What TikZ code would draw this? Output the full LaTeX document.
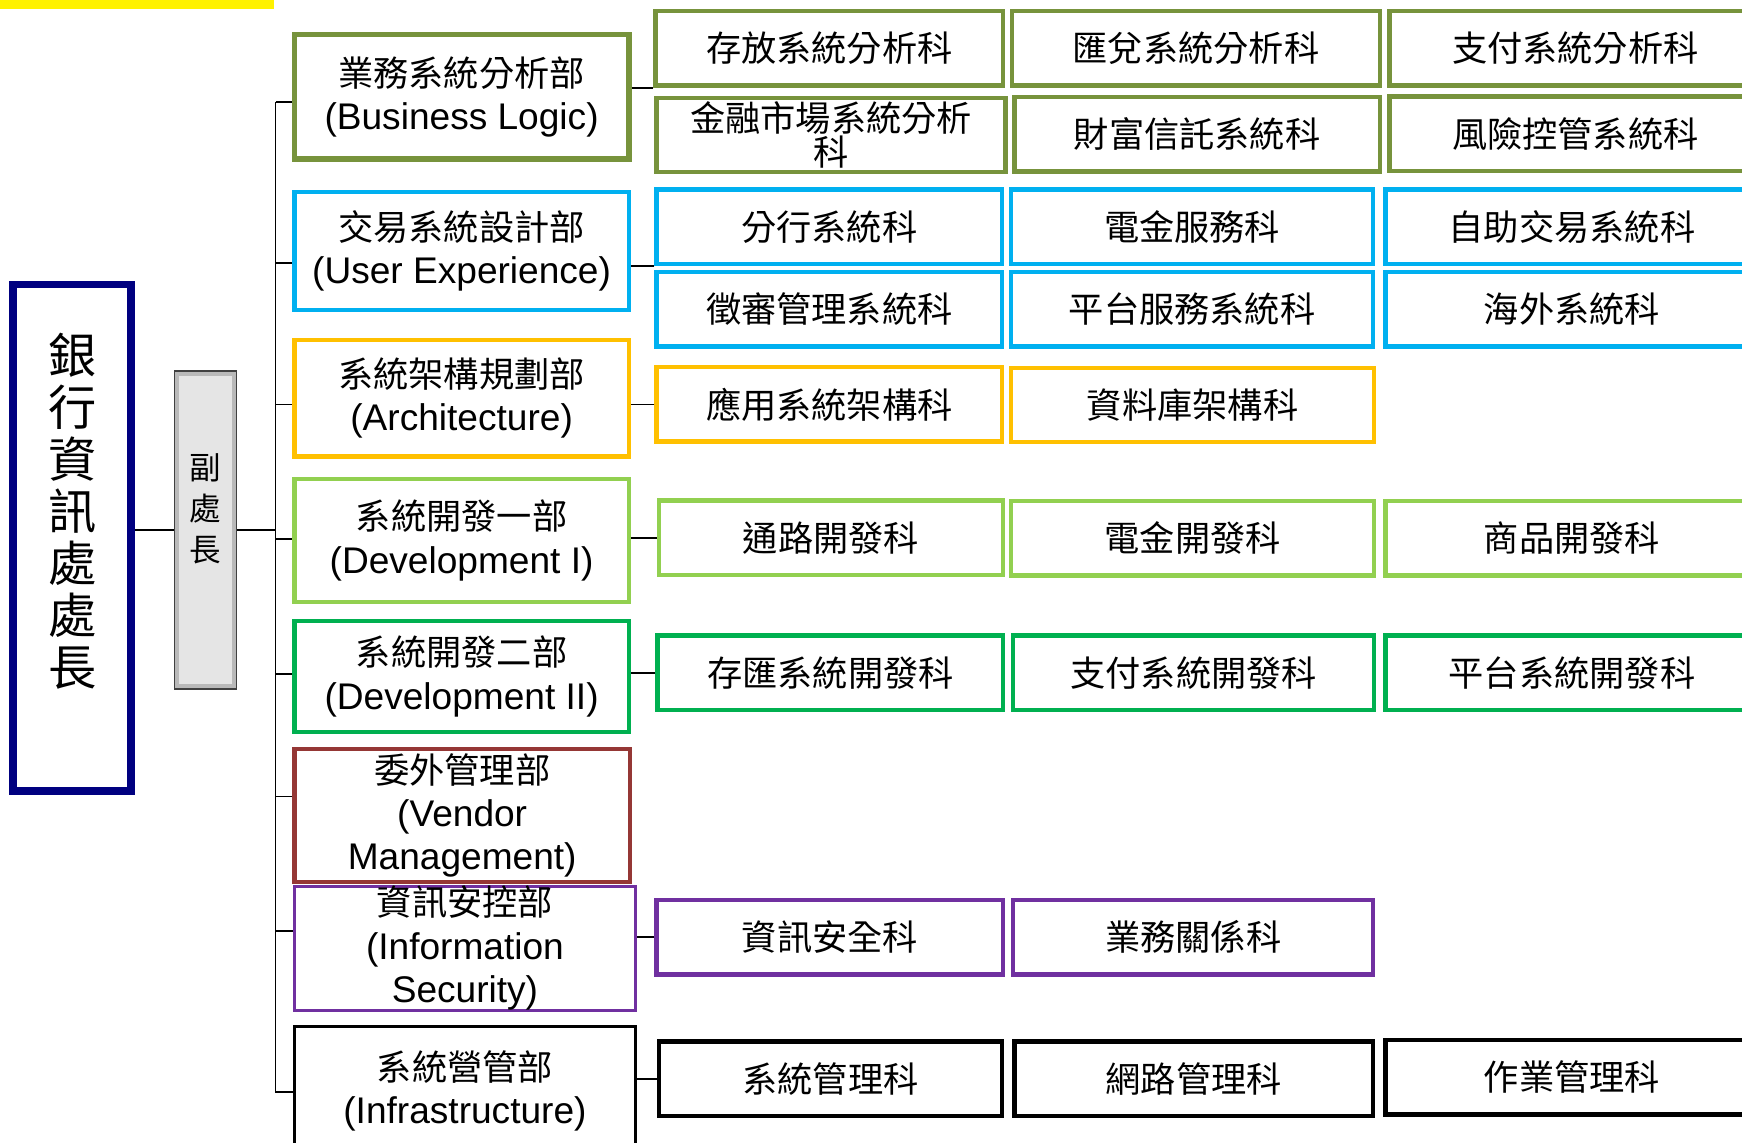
\documentclass[tikz,border=0pt]{standalone}
\usepackage{fontspec}
\setmainfont{Liberation Sans}
\newfontfamily\cjk[Scale=0.95]{Noto Sans CJK TC}
\usetikzlibrary{calc}
\definecolor{bizc}{HTML}{77933C}
\definecolor{uxc}{HTML}{00B0F0}
\definecolor{archc}{HTML}{FFC000}
\definecolor{devonec}{HTML}{92D050}
\definecolor{devtwoc}{HTML}{00B050}
\definecolor{venc}{HTML}{953735}
\definecolor{secc}{HTML}{7030A0}
\definecolor{bossc}{HTML}{000080}

\begin{document}
\begin{tikzpicture}[x=0.02cm, y=-0.02cm,
	dept/.style={draw=#1, line width=2.3pt, minimum width=6.02cm, inner sep=0pt, align=center, font=\fontsize{19}{22.2}\selectfont},
	sect/.style={draw=#1, line width=2.3pt, minimum height=1.34cm, inner sep=0pt, align=center, font=\cjk\fontsize{19}{13.5}\selectfont},
	vname/.style={align=center, inner sep=0pt},
	wire/.style={line width=0.9pt}]
	\clip (0,0) rectangle (1568,1028);
	\fill[yellow] (0,0) rectangle (247,8);
	% head of office and deputy
	\node[draw=bossc, line width=4pt, minimum width=2.12cm, minimum height=9.12cm] (boss) at (65,484) {};
	\node[vname, font=\cjk\fontsize{26}{26.6}\selectfont] (bossname) at ([yshift=0.48cm]boss.center) {銀\\行\\資\\訊\\處\\處\\長};
	\node[draw=gray!50!black, line width=0.8pt, fill=gray!20, minimum width=1.12cm, minimum height=5.72cm,
		path picture={\draw[gray!55, line width=5pt] (path picture bounding box.south west) rectangle (path picture bounding box.north east);}] (vice) at (185,477) {};
	\node[vname, font=\cjk\fontsize{17}{20.8}\selectfont] (vicename) at ([yshift=0.38cm]vice.center) {副\\處\\長};
	\coordinate (trk) at (248,92);
	\coordinate (trkb) at (248,984);
	\draw[wire] (vice.west -| boss.east) -- (vice.west);
	\draw[wire] (vice.east) -- (vice.east -| trk);
	\draw[wire] (trk) -- (trkb);
	% departments
	\node[dept=bizc, line width=3pt, minimum height=2.24cm] (biz) at (415.5,87) {{\cjk 業務系統分析部}\\(Business Logic)};
	\node[dept=uxc, minimum height=2.12cm] (ux) at (415.5,226) {{\cjk 交易系統設計部}\\(User Experience)};
	\node[dept=archc, minimum height=2.10cm] (arch) at (415.5,358.5) {{\cjk 系統架構規劃部}\\(Architecture)};
	\node[dept=devonec, minimum height=2.22cm] (dev1) at (415.5,486.5) {{\cjk 系統開發一部}\\(Development I)};
	\node[dept=devtwoc, minimum height=2.0cm] (dev2) at (415.5,609) {{\cjk 系統開發二部}\\(Development II)};
	\node[dept=venc, minimum width=6.04cm, minimum height=2.40cm] (ven) at (416,734) {{\cjk 委外管理部}\\(Vendor\\Management)};
	\node[dept=secc, line width=1.5pt, minimum width=6.14cm, minimum height=2.10cm] (sec) at (418.5,853.5) {{\cjk 資訊安控部}\\(Information\\Security)};
	\node[dept=black, line width=1.8pt, minimum width=6.14cm, minimum height=2.32cm] (infra) at (418.5,982) {{\cjk 系統營管部}\\(Infrastructure)};
	\foreach \d/\y in {biz/92, ux/237, arch/364, dev1/485, dev2/607, ven/717, sec/838, infra/983}
		\draw[wire] (trk |- 0,\y) -- (\d.west |- 0,\y);
	% sections
	\foreach \n/\x/\y/\w/\c/\t in {
		b1/746.5/43.5/6.26/bizc/存放系統分析科, b2/1076.5/43.5/6.62/bizc/匯兌系統分析科, b3/1418/43.5/6.7/bizc/支付系統分析科,
		b4/748/121.5/6.28/bizc/金融市場系統分析\\科, b5/1077.5/121/6.58/bizc/財富信託系統科, b6/1418/120.5/6.7/bizc/風險控管系統科,
		u1/746.5/204/6.22/uxc/分行系統科, u2/1073/204/6.52/uxc/電金服務科, u3/1415/204/6.72/uxc/自助交易系統科,
		u4/746.5/278.5/6.22/uxc/徵審管理系統科, u5/1073/278.5/6.52/uxc/平台服務系統科, u6/1415/278.5/6.72/uxc/海外系統科,
		a1/746.5/364/6.22/archc/應用系統架構科, a2/1073.5/364.5/6.54/archc/資料庫架構科,
		d1/748/484/6.2/devonec/通路開發科, d2/1073.5/484.5/6.54/devonec/電金開發科, d3/1415/484.5/6.72/devonec/商品開發科,
		e1/747.5/605.5/6.22/devtwoc/存匯系統開發科, e2/1074.5/605.5/6.5/devtwoc/支付系統開發科, e3/1415/605.5/6.72/devtwoc/平台系統開發科,
		i1/747/843.5/6.24/secc/資訊安全科, i2/1074/843.5/6.48/secc/業務關係科,
		f1/747.5/971/6.18/black/系統管理科, f2/1074.5/971/6.46/black/網路管理科, f3/1415/969.5/6.72/black/作業管理科}
		\node[sect=\c, minimum width=\w cm] (\n) at (\x,\y) {\t};
	\draw[wire] (b1.south west) -- (b1.south west -| biz.east);
	\draw[wire] (u1.south west) -- (u1.south west -| ux.east);
	\draw[wire] (a1.west) -- (a1.west -| arch.east);
	\draw[wire] (d1.west) -- (d1.west -| dev1.east);
	\draw[wire] (e1.west) -- (e1.west -| dev2.east);
	\draw[wire] (i1.west) -- (i1.west -| sec.east);
	\draw[wire] (f1.west) -- (f1.west -| infra.east);
\end{tikzpicture}
\end{document}
